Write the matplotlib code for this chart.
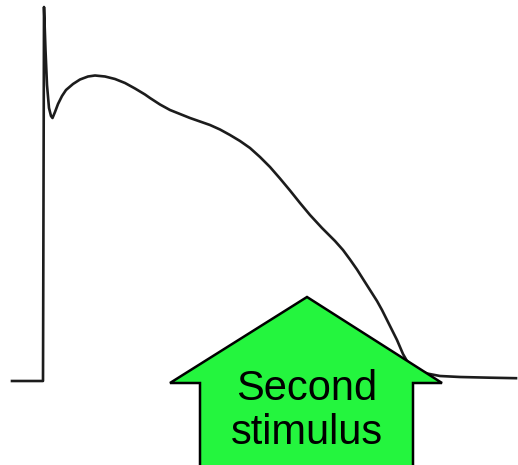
import matplotlib
matplotlib.use("Agg")
import matplotlib.pyplot as plt
from matplotlib.patches import Polygon

# Action potential trace (x = time, y = height on the canvas, top = 0)
trace_x = [12, 43, 43.5, 44, 45.5, 47, 49, 51, 52.5, 55, 58, 62, 66, 73, 80,
           88, 95, 105, 115, 125, 135, 145, 150, 160, 170, 180, 190, 200,
           210, 220, 230, 240, 250, 260, 270, 280, 290, 300, 310, 322, 335,
           343, 350, 357, 363, 370, 377, 382, 387, 392, 397, 400, 403, 407,
           412, 418, 427, 440, 460, 490, 516]
trace_y = [381, 381, 200, 7, 50, 85, 108, 116, 118, 112, 104, 96, 90, 84, 79.5,
           76.5, 75.5, 76.5, 79, 83, 88.5, 94.5, 98, 104.5, 110, 114, 118, 121.5,
           125, 129.5, 135, 141, 148, 157, 167, 178.5, 190.5, 203, 215, 228, 241,
           250, 259.5, 269.5, 279, 290, 301, 310, 320, 330, 340, 347, 354, 361,
           366, 370, 373.5, 376, 377, 377.7, 378.2]

# Upward arrow marking the second stimulus
arrow_x = [200, 200, 170, 307, 442, 413, 413]
arrow_y = [470, 383, 383, 297, 383, 383, 470]
arrow_label = "Second\nstimulus"

W, H = 518, 465
fig = plt.figure(figsize=(W / 100, H / 100), dpi=100)
ax = fig.add_axes([0, 0, 1, 1])
ax.set_xlim(0, W)
ax.set_ylim(H, 0)
ax.axis("off")

ax.plot(trace_x, trace_y, color="#1c1c1c", lw=1.9, solid_joinstyle="round",
        zorder=1)

arrow = Polygon(list(zip(arrow_x, arrow_y)), closed=True, facecolor="#24F53E",
                edgecolor="black", lw=1.8, joinstyle="miter", zorder=2)
ax.add_patch(arrow)

ax.text(307, 411, arrow_label, ha="center", va="center", fontsize=30,
        family="Liberation Sans", linespacing=1.15, color="black", zorder=3)

fig.savefig("out.png", dpi=100, facecolor="white")
